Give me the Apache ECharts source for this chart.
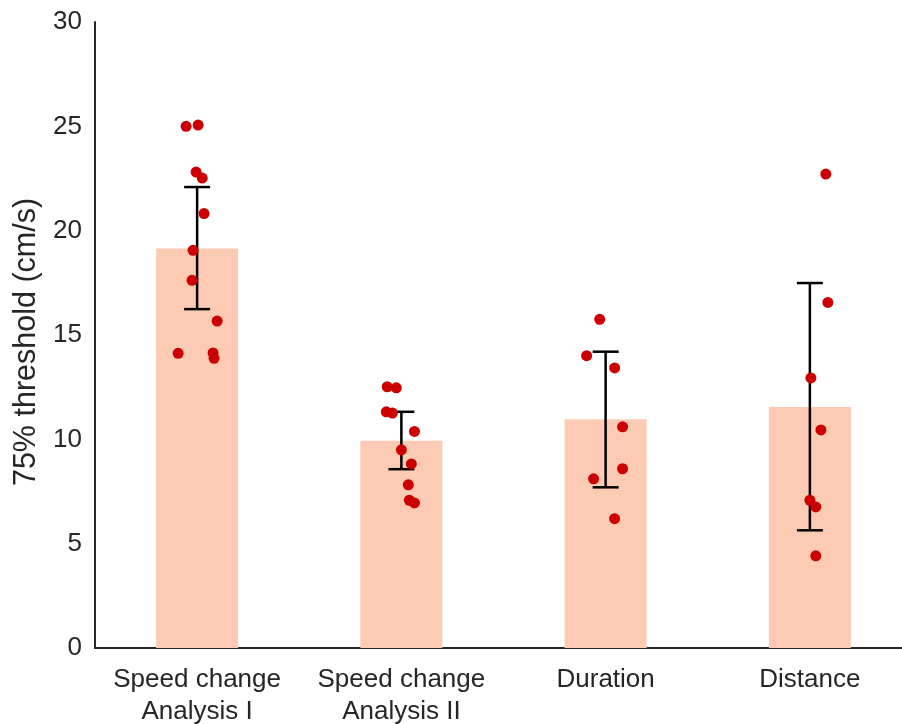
<!DOCTYPE html>
<html>
<head>
<meta charset="utf-8">
<script src="https://cdn.jsdelivr.net/npm/echarts@6/dist/echarts.min.js"></script>
<style>html,body{margin:0;padding:0;background:#fff}#c{width:902px;height:724px}</style>
</head>
<body>
<div id="c"></div>
<script>
var categories = ['Speed change\nAnalysis I', 'Speed change\nAnalysis II', 'Duration', 'Distance'];
var yTicks = [0, 5, 10, 15, 20, 25, 30];
var means = [19.15, 9.93, 10.96, 11.55];
var errLow = [16.24, 8.57, 7.70, 5.64];
var errHigh = [22.09, 11.32, 14.20, 17.49];
var pts1 = [25.00, 25.06, 22.81, 22.52, 20.82, 19.06, 17.62, 15.67, 14.12, 14.14, 13.88];
var jit1 = [-0.054, 0.005, -0.005, 0.025, 0.034, -0.020, -0.025, 0.098, -0.093, 0.078, 0.083];
var pts2 = [12.52, 12.47, 11.32, 11.26, 10.38, 9.50, 8.82, 7.82, 7.08, 6.95];
var jit2 = [-0.069, -0.025, -0.074, -0.044, 0.064, 0.000, 0.049, 0.034, 0.039, 0.064];
var pts3 = [15.75, 14.01, 13.42, 10.60, 8.59, 8.11, 6.20];
var jit3 = [-0.029, -0.093, 0.044, 0.083, 0.083, -0.059, 0.044];
var pts4 = [22.71, 16.56, 12.94, 10.45, 7.08, 6.76, 4.42];
var jit4 = [0.078, 0.088, 0.005, 0.054, 0.000, 0.029, 0.029];

var allPts = [pts1, pts2, pts3, pts4];
var allJit = [jit1, jit2, jit3, jit4];
var scatterData = [];
allPts.forEach(function (arr, ci) {
  arr.forEach(function (v, i) { scatterData.push([ci + allJit[ci][i], v]); });
});
var errData = categories.map(function (c, i) { return [i, errLow[i], errHigh[i]]; });

var FONT = '"Liberation Sans", Arial, Helvetica, sans-serif';
var AX = '#262626';
var chart = echarts.init(document.getElementById('c'), null, {renderer: 'canvas'});
chart.setOption({
  animation: false,
  backgroundColor: '#fff',
  grid: {left: 95, right: -10, top: 22, bottom: 76, containLabel: false, outerBoundsMode: 'none'},
  xAxis: [{
    type: 'category',
    data: categories,
    axisLine: {show: true, onZero: false, lineStyle: {color: AX, width: 2}},
    axisTick: {show: false},
    axisLabel: {fontFamily: FONT, fontSize: 26, color: '#262626', margin: 16, lineHeight: 32, interval: 0}
  }, {
    type: 'value', min: -0.5, max: 3.5, show: false
  }],
  yAxis: {
    type: 'value', min: yTicks[0], max: yTicks[yTicks.length - 1], interval: 5,
    name: '75% threshold (cm/s)', nameLocation: 'middle', nameGap: 52,
    nameTextStyle: {fontFamily: FONT, fontSize: 30.5, color: '#262626', padding: [0, 14, 0, 0]},
    axisLine: {show: true, onZero: false, lineStyle: {color: AX, width: 2}},
    axisTick: {show: false},
    splitLine: {show: false},
    axisLabel: {fontFamily: FONT, fontSize: 26, color: '#262626', margin: 13}
  },
  series: [{
    type: 'bar', data: means, barWidth: 82, xAxisIndex: 0,
    itemStyle: {color: '#FDCBB4'}, z: 1
  }, {
    type: 'custom', xAxisIndex: 0, z: 3,
    data: errData,
    renderItem: function (params, api) {
      var x = api.value(0);
      var lo = api.coord([x, api.value(1)]);
      var hi = api.coord([x, api.value(2)]);
      var hw = 13;
      var st = {stroke: '#000', lineWidth: 2.5};
      return {type: 'group', children: [
        {type: 'line', shape: {x1: lo[0], y1: lo[1], x2: hi[0], y2: hi[1]}, style: st},
        {type: 'line', shape: {x1: lo[0] - hw, y1: lo[1], x2: lo[0] + hw, y2: lo[1]}, style: st},
        {type: 'line', shape: {x1: hi[0] - hw, y1: hi[1], x2: hi[0] + hw, y2: hi[1]}, style: st}
      ]};
    }
  }, {
    type: 'scatter', xAxisIndex: 1, data: scatterData, symbolSize: 11, z: 5,
    itemStyle: {color: '#CC0000', opacity: 1}
  }]
});
</script>
</body>
</html>
